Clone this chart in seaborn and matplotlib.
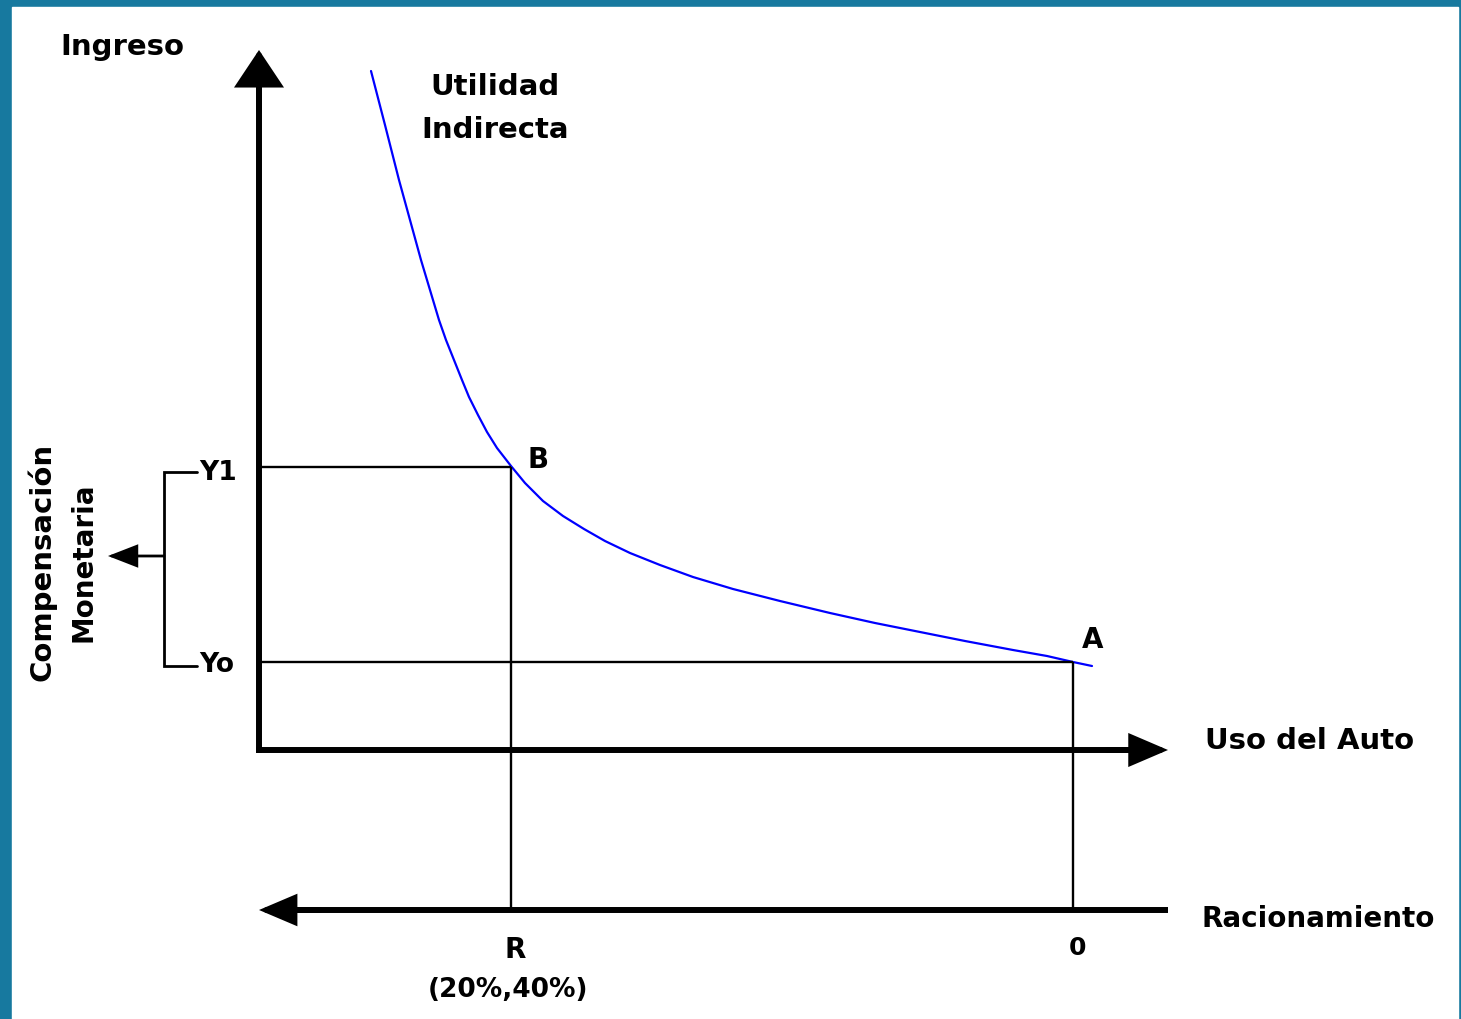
import matplotlib
matplotlib.use("Agg")
import matplotlib.pyplot as plt
import seaborn as sns
import pandas as pd
from matplotlib.patches import Rectangle

# curva de utilidad indirecta (uso del auto vs ingreso)
uso = [112, 126, 140, 151, 162, 171, 180, 187, 195, 203, 210, 219, 228, 238, 252,
       266, 284, 304, 325, 346, 371, 401, 434, 474, 521, 571, 616, 661, 706, 754,
       788, 814, 833]
ingreso = [679, 625, 570, 530, 490, 460, 430, 410, 390, 370, 353, 335, 318, 302, 284,
           267, 249, 234, 221, 209, 197, 185, 173, 161, 149, 137, 127, 118, 109, 100,
           94, 88, 84]

uso_B = 252     # punto B (racionamiento R)
uso_A = 814     # punto A (sin racionamiento)
Y1 = 283
Y0 = 88
eje_y_max = 700
eje_x_max = 909
racion_y = -160
corchete_x = -95
corchete_flecha_y = 194

sns.set_theme(style="white")
plt.rcParams['font.family'] = ['DejaVu Sans']

fig = plt.figure(figsize=(14.61, 10.19), dpi=100)
fig.patch.set_facecolor("#17799f")
fig.add_artist(Rectangle((12 / 1461, 0), 1446 / 1461, 1012 / 1019,
                         transform=fig.transFigure, color="white", zorder=-1))
ax = fig.add_axes([0, 0, 1, 1])
ax.set_xlim(-259, 1202)
ax.set_ylim(-269, 750)
ax.axis("off")

df = pd.DataFrame({"uso": uso, "ingreso": ingreso})
sns.lineplot(data=df, x="uso", y="ingreso", color="#0000ff", lw=1.6, sort=False, ax=ax)

thin = dict(color="black", lw=1.7, solid_capstyle="butt")
ax.plot([0, uso_B], [Y1, Y1], **thin)
ax.plot([0, uso_A], [Y0, Y0], **thin)
ax.plot([uso_B, uso_B], [Y1, racion_y], **thin)
ax.plot([uso_A, uso_A], [Y0, racion_y], **thin)

# corchete de compensacion
ax.plot([-62, corchete_x, corchete_x, -62], [Y1 - 5, Y1 - 5, Y0 - 4, Y0 - 4],
        color="black", lw=2.0, solid_joinstyle="miter")

# ejes con punta de flecha
ax.plot([0, 0], [0, eje_y_max - 20], color="black", lw=4.3, solid_capstyle="projecting")
ax.plot([0, eje_x_max - 20], [0, 0], color="black", lw=4.3, solid_capstyle="projecting")
ax.plot([20, eje_x_max], [racion_y, racion_y], color="black", lw=4.3,
        solid_capstyle="butt")


def flecha(xy, xytext, lw, hl, hw):
    ax.annotate("", xy=xy, xytext=xytext,
                arrowprops=dict(arrowstyle=f"-|>,head_length={hl},head_width={hw}",
                                mutation_scale=1, lw=lw, color="black",
                                shrinkA=0, shrinkB=0, joinstyle="miter"))


flecha((0, eje_y_max), (0, eje_y_max - 60), 4.3, 21, 14)
flecha((eje_x_max, 0), (eje_x_max - 60, 0), 4.3, 21, 9)
flecha((0, racion_y), (60, racion_y), 4.3, 20, 8.5)
flecha((-151, corchete_flecha_y), (corchete_x, corchete_flecha_y), 2.0, 18, 7)

bold = dict(fontweight="bold", color="black")
ax.text(-199, 695, "Ingreso", fontsize=21, va="baseline", **bold)
ax.text(171, 655, "Utilidad", fontsize=21, va="baseline", **bold)
ax.text(162, 612, "Indirecta", fontsize=21, va="baseline", **bold)
ax.text(946, 1, "Uso del Auto", fontsize=21, va="baseline", **bold)
ax.text(943, -177, "Racionamiento", fontsize=20, va="baseline", **bold)
ax.text(uso_B + 4, -208, "R", fontsize=20, ha="center", va="baseline", **bold)
ax.text(uso_B - 3, -247, "(20%,40%)", fontsize=19, ha="center", va="baseline", **bold)
ax.text(uso_A + 4, -205, "0", fontsize=18, ha="center", va="baseline", **bold)
ax.text(uso_B + 16, Y1 - 1, "B", fontsize=20, va="baseline", **bold)
ax.text(uso_A + 9, Y0 + 14, "A", fontsize=20, va="baseline", **bold)
ax.text(-60, Y1 - 13, "Y1", fontsize=19, va="baseline", **bold)
ax.text(-60, Y0 - 10, "Yo", fontsize=19, va="baseline", **bold)
ax.text(-217, 188, "Compensación", fontsize=21, rotation=90,
        ha="center", va="center", **bold)
ax.text(-176, 188, "Monetaria", fontsize=20, rotation=90,
        ha="center", va="center", **bold)

fig.savefig("out.png", dpi=100, facecolor=fig.get_facecolor())
